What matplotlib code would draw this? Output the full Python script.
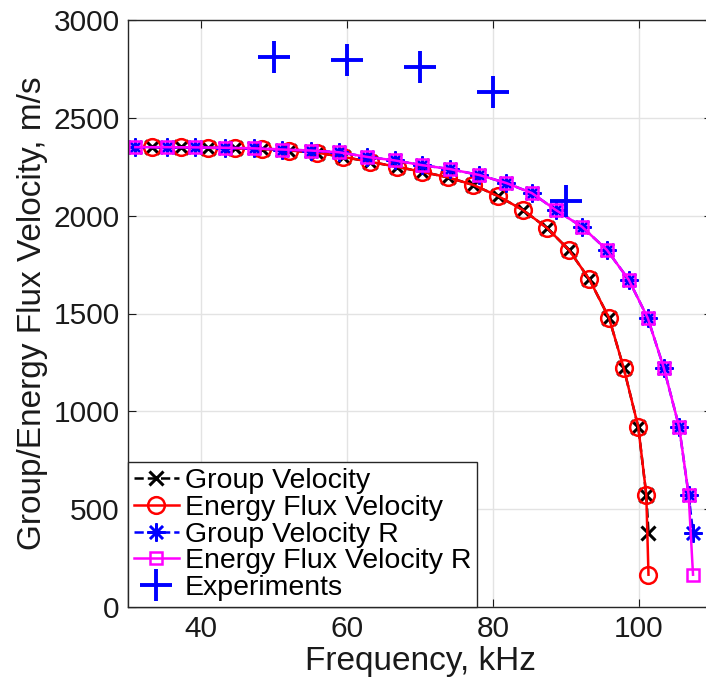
import matplotlib
matplotlib.use("Agg")
import matplotlib.pyplot as plt

plt.rcParams['font.family'] = ['Liberation Sans', 'DejaVu Sans']

# dispersion curves
freq = [33.3, 37.2, 40.9, 44.7, 48.4, 52.1, 55.9, 59.5, 63.2, 66.8, 70.3, 73.8,
        77.3, 80.7, 84.1, 87.4, 90.4, 93.2, 95.9, 97.9, 99.9, 101.0, 101.3]
group_vel = [2350, 2349, 2347, 2344, 2340, 2333, 2322, 2300, 2275, 2250, 2224, 2196,
             2157, 2100, 2029, 1937, 1825, 1675, 1477, 1222, 920, 573, 378]
energy_vel = [2350, 2349, 2347, 2344, 2340, 2333, 2322, 2300, 2275, 2250, 2224, 2196,
              2157, 2100, 2029, 1937, 1825, 1675, 1477, 1222, 920, 573, 165]

freq_r = [31.0, 35.3, 39.2, 43.3, 47.3, 51.1, 55.0, 58.9, 62.8, 66.6, 70.3, 74.1,
          78.1, 81.8, 85.3, 88.6, 92.2, 95.6, 98.6, 101.2, 103.4, 105.5, 106.8, 107.4]
group_vel_r = [2350, 2350, 2349, 2347, 2344, 2338, 2333, 2324, 2300, 2282, 2258, 2238,
               2208, 2167, 2116, 2029, 1943, 1825, 1672, 1477, 1222, 920, 573, 378]
energy_vel_r = [2350, 2350, 2349, 2347, 2344, 2338, 2333, 2324, 2300, 2282, 2258, 2238,
                2208, 2167, 2116, 2029, 1943, 1825, 1672, 1477, 1222, 920, 573, 165]

exp_freq = [50, 60, 70, 80, 90]
exp_vel = [2812, 2797, 2760, 2633, 2075]

fig = plt.figure(figsize=(7.06, 6.84), dpi=100)
ax = fig.add_axes([128 / 706, 77 / 684, 584 / 706, 587 / 684])

asterisk = (8, 2, 0)
ax.plot(freq, group_vel, '--', color='k', marker='x', ms=10, mew=2.2, lw=1.8,
        label='Group Velocity')
ax.plot(freq, energy_vel, '-', color='#ff0000', marker='o', ms=12, mew=1.8,
        mfc='none', lw=1.8, label='Energy Flux Velocity')
ax.plot(freq_r, group_vel_r, '--', color='#0000ff', marker=asterisk, ms=13, mew=1.8,
        lw=1.8, label='Group Velocity R')
ax.plot(freq_r, energy_vel_r, '-', color='#ff00ff', marker='s', ms=8.5, mew=1.8,
        mfc='none', lw=1.8, label='Energy Flux Velocity R')
ax.plot(exp_freq, exp_vel, linestyle='none', color='#0000ff', marker='+', ms=23,
        mew=2.8, label='Experiments')

ax.set_xlim(30, 110)
ax.set_ylim(0, 3000)
ax.set_xticks([40, 60, 80, 100])
ax.set_yticks(range(0, 3001, 500))
ax.grid(True, color='#e3e3e3', linewidth=1)
ax.set_axisbelow(True)
ax.tick_params(direction='in', top=True, right=True, length=6, labelsize=21.5,
               colors='#1a1a1a', pad=6)
for s in ax.spines.values():
    s.set_color('#262626')
    s.set_linewidth(1)

ax.set_xlabel('Frequency, kHz', fontsize=24, color='#1a1a1a', labelpad=2)
ax.set_ylabel('Group/Energy Flux Velocity, m/s', fontsize=24, color='#1a1a1a',
              labelpad=4)

leg = ax.legend(loc='lower left', fontsize=20.5, borderaxespad=0, borderpad=0.2,
                labelspacing=0.03, handlelength=1.6, handletextpad=0.2,
                fancybox=False, framealpha=1)
leg.get_frame().set_edgecolor('#262626')
leg.get_frame().set_linewidth(1)

fig.savefig('out.png', dpi=100)
